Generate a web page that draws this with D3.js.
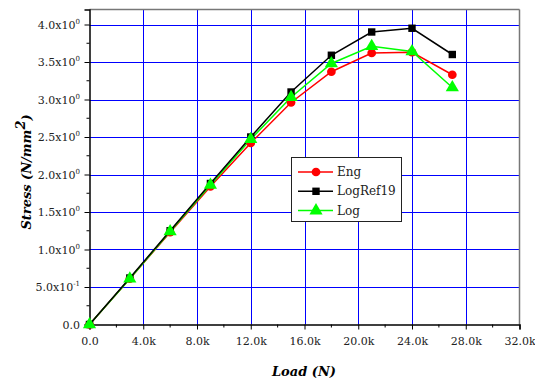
<!DOCTYPE html>
<html><head><meta charset="utf-8">
<script src="https://cdn.jsdelivr.net/npm/d3@7"></script>
<style>body{margin:0;background:#fff}svg{display:block}</style>
</head><body>
<svg id="c" width="535" height="383"></svg>
<script>
const loads = [0, 3000, 6000, 9000, 12000, 15000, 18000, 21000, 24000, 27000];
const eng = [0, 0.61, 1.23, 1.84, 2.42, 2.96, 3.37, 3.62, 3.63, 3.33];
const logRef19 = [0, 0.62, 1.25, 1.88, 2.50, 3.10, 3.59, 3.90, 3.95, 3.60];
const logS = [0, 0.61, 1.24, 1.86, 2.47, 3.03, 3.48, 3.71, 3.64, 3.16];
const seriesNames = ["Eng", "LogRef19", "Log"];
const seriesColors = ["#ff0000", "#000000", "#00ff00"];
const xTicks = [0, 4000, 8000, 12000, 16000, 20000, 24000, 28000, 32000];
const xTickLabels = ["0.0", "4.0k", "8.0k", "12.0k", "16.0k", "20.0k", "24.0k", "28.0k", "32.0k"];
const yTicks = [0, 0.5, 1, 1.5, 2, 2.5, 3, 3.5, 4];
const yTickMant = ["0.0", "5.0x10", "1.0x10", "1.5x10", "2.0x10", "2.5x10", "3.0x10", "3.5x10", "4.0x10"];
const yTickExp = ["", "-1", "0", "0", "0", "0", "0", "0", "0"];

const svg = d3.select("#c");
const L = 89.5, R = 519.5, T = 9.5, B = 324.5;
const x = d3.scaleLinear().domain([0, 32000]).range([L, R]);
const y = d3.scaleLinear().domain([0, 4.2]).range([B, T]);
const font = "'DejaVu Serif', serif";

// grid
const g = svg.append("g");
g.selectAll(".gx").data(xTicks.slice(1, -1)).enter().append("line")
  .attr("x1", d => Math.round(x(d)) + 0.5).attr("x2", d => Math.round(x(d)) + 0.5)
  .attr("y1", T).attr("y2", B).attr("stroke", "#0000ff").attr("stroke-width", 1);
g.selectAll(".gy").data(yTicks.slice(1)).enter().append("line")
  .attr("y1", d => Math.round(y(d)) + 0.5).attr("y2", d => Math.round(y(d)) + 0.5)
  .attr("x1", L).attr("x2", R).attr("stroke", "#0000ff").attr("stroke-width", 1);

// frame top/right
svg.append("line").attr("x1", L).attr("x2", R).attr("y1", T).attr("y2", T).attr("stroke", "#777").attr("stroke-width", 1.5);
svg.append("line").attr("x1", R).attr("x2", R).attr("y1", T).attr("y2", B).attr("stroke", "#777").attr("stroke-width", 1.5);

// axes
const xAxis = d3.axisBottom(x).tickValues(xTicks).tickSize(5).tickFormat((d, i) => xTickLabels[i]);
const xa = svg.append("g").attr("transform", `translate(0,${B})`).call(xAxis);
xa.select(".domain").attr("stroke", "#000").attr("stroke-width", 1.5);
xa.selectAll("text").attr("font-family", font).attr("font-size", 11).attr("fill", "#222").attr("dy", "1.15em");
const xMinor = d3.range(2000, 32000, 4000);
svg.append("g").selectAll("line").data(xMinor).enter().append("line")
  .attr("x1", d => x(d)).attr("x2", d => x(d)).attr("y1", B).attr("y2", B + 3).attr("stroke", "#000");

const yAxis = d3.axisLeft(y).tickValues(yTicks).tickSize(5).tickFormat("");
const ya = svg.append("g").attr("transform", `translate(${L},0)`).call(yAxis);
ya.select(".domain").attr("stroke", "#000").attr("stroke-width", 1.5);
const yMinor = d3.range(0.25, 4.2, 0.5);
svg.append("g").selectAll("line").data(yMinor).enter().append("line")
  .attr("x1", L - 3).attr("x2", L).attr("y1", d => y(d)).attr("y2", d => y(d)).attr("stroke", "#000");
// y labels
const yl = svg.append("g");
yTicks.forEach((d, i) => {
  const t = yl.append("text").attr("x", 80).attr("y", y(d) + 4)
    .attr("text-anchor", "end").attr("font-family", font).attr("font-size", 11).attr("fill", "#222");
  if (yTickExp[i] === "") {
    t.text(yTickMant[i]);
  } else {
    t.append("tspan").text(yTickMant[i]);
    t.append("tspan").attr("dy", -5).attr("font-size", 7).text(yTickExp[i]);
  }
});

// titles
svg.append("text").attr("x", 304).attr("y", 376).attr("text-anchor", "middle")
  .attr("font-family", font).attr("font-size", 13).attr("font-weight", "bold").attr("font-style", "italic")
  .text("Load (N)");
const yt = svg.append("text").attr("transform", "translate(31,172) rotate(-90)").attr("text-anchor", "middle")
  .attr("font-family", font).attr("font-size", 13).attr("font-weight", "bold").attr("font-style", "italic");
yt.append("tspan").text("Stress (N/mm");
yt.append("tspan").attr("dy", -6).attr("font-size", 13).text("2");
yt.append("tspan").attr("dy", 6).text(")");

// series
const allSeries = [eng, logRef19, logS];
const line = d3.line().x((d, i) => x(loads[i])).y(d => y(d));
const sym = [d3.symbolCircle, d3.symbolSquare, d3.symbolTriangle];
const symSize = [60, 55, 75];
const order = [0, 2, 1];
order.forEach(k => {
  svg.append("path").datum(allSeries[k]).attr("d", line).attr("fill", "none")
    .attr("stroke", seriesColors[k]).attr("stroke-width", 1.5);
});
[0, 1, 2].forEach(k => {
  svg.append("g").selectAll("path").data(allSeries[k]).enter().append("path")
    .attr("transform", (d, i) => `translate(${x(loads[i])},${y(d)})`)
    .attr("d", d3.symbol().type(sym[k]).size(symSize[k])).attr("fill", seriesColors[k]);
});

// legend
const lg = svg.append("g");
lg.append("rect").attr("x", 291.5).attr("y", 157.5).attr("width", 110).attr("height", 64)
  .attr("fill", "#fff").attr("stroke", "#222").attr("stroke-width", 1);
seriesNames.forEach((n, k) => {
  const cy = 172 + k * 19.3;
  lg.append("line").attr("x1", 298).attr("x2", 333).attr("y1", cy).attr("y2", cy)
    .attr("stroke", seriesColors[k]).attr("stroke-width", 1.5);
  lg.append("path").attr("transform", `translate(316,${cy})`)
    .attr("d", d3.symbol().type(sym[k]).size(symSize[k])).attr("fill", seriesColors[k]);
  lg.append("text").attr("x", 337).attr("y", cy + 4).attr("font-family", font).attr("font-size", 12)
    .attr("fill", "#222").text(n);
});
</script>
</body></html>
